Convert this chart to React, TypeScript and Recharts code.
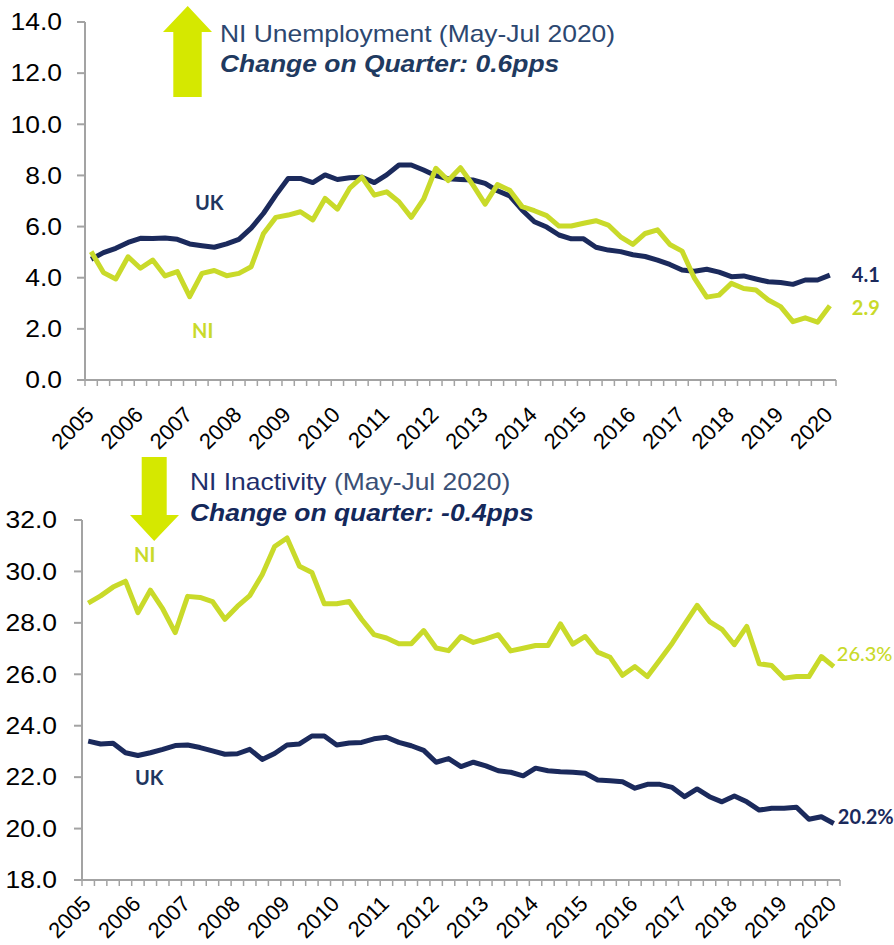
import React from 'react';
import { LineChart, Line, XAxis, YAxis, LabelList } from 'recharts';

// rolling quarters, May-Jul 2005 .. May-Jul 2020 (61 points)
const yearLabels = ['2005', '2006', '2007', '2008', '2009', '2010', '2011', '2012', '2013', '2014', '2015', '2016', '2017', '2018', '2019', '2020'];

const ukUnemployment = [
  4.72, 4.98, 5.15, 5.38, 5.54, 5.53, 5.55, 5.50, 5.32, 5.25, 5.19, 5.32, 5.50, 5.94, 6.52, 7.23,
  7.88, 7.88, 7.72, 8.02, 7.84, 7.91, 7.93, 7.72, 8.02, 8.41, 8.41, 8.21, 7.99, 7.87, 7.84, 7.82,
  7.69, 7.40, 7.20, 6.65, 6.19, 5.98, 5.67, 5.52, 5.52, 5.19, 5.08, 5.02, 4.90, 4.83, 4.69, 4.52,
  4.30, 4.25, 4.33, 4.22, 4.04, 4.07, 3.95, 3.84, 3.81, 3.74, 3.91, 3.91, 4.1,
];
const niUnemployment = [
  5.02, 4.20, 3.95, 4.82, 4.37, 4.69, 4.07, 4.24, 3.26, 4.17, 4.28, 4.08, 4.17, 4.43, 5.73, 6.36,
  6.45, 6.58, 6.26, 7.10, 6.68, 7.50, 7.93, 7.23, 7.36, 6.97, 6.36, 7.07, 8.28, 7.80, 8.30, 7.63,
  6.88, 7.64, 7.42, 6.78, 6.62, 6.43, 6.02, 6.02, 6.13, 6.23, 6.06, 5.60, 5.30, 5.73, 5.87, 5.30,
  5.04, 3.98, 3.24, 3.32, 3.78, 3.58, 3.52, 3.13, 2.87, 2.28, 2.43, 2.26, 2.9,
];
const ukInactivity = [
  23.40, 23.29, 23.32, 22.95, 22.84, 22.95, 23.08, 23.23, 23.25, 23.15, 23.02, 22.89, 22.91, 23.08, 22.69, 22.92,
  23.25, 23.29, 23.60, 23.60, 23.25, 23.33, 23.35, 23.49, 23.55, 23.35, 23.22, 23.04, 22.58, 22.72, 22.41, 22.58,
  22.44, 22.25, 22.19, 22.05, 22.35, 22.25, 22.21, 22.19, 22.15, 21.89, 21.86, 21.82, 21.57, 21.72, 21.72, 21.60,
  21.24, 21.54, 21.24, 21.04, 21.27, 21.04, 20.72, 20.79, 20.79, 20.83, 20.36, 20.46, 20.2,
];
const niInactivity = [
  28.77, 29.05, 29.39, 29.62, 28.40, 29.27, 28.54, 27.62, 29.03, 28.99, 28.83, 28.14, 28.64, 29.06, 29.87, 30.97,
  31.30, 30.20, 29.96, 28.74, 28.74, 28.83, 28.14, 27.54, 27.41, 27.19, 27.19, 27.70, 27.02, 26.92, 27.47, 27.24,
  27.38, 27.54, 26.91, 27.01, 27.12, 27.12, 27.96, 27.17, 27.47, 26.86, 26.66, 25.96, 26.30, 25.91, 26.56, 27.21,
  27.95, 28.68, 28.05, 27.75, 27.15, 27.86, 26.41, 26.34, 25.85, 25.91, 25.91, 26.69, 26.3,
];

const unempTicks = [0, 2, 4, 6, 8, 10, 12, 14];
const inactTicks = [18, 20, 22, 24, 26, 28, 30, 32];

const NAVY = '#1B2A5C';
const LIME = '#C9DA2A';
const ARROW = '#D5E800';
const AXIS = '#A3A3A3';
const ARIAL = '"Liberation Sans", Arial, sans-serif';
const LABEL_FONT = 'Lato, "Open Sans", sans-serif';

const lastIndex = ukUnemployment.length - 1;

const toRows = (uk: number[], ni: number[]) => uk.map((v, i) => ({ q: i, uk: v, ni: ni[i] }));
const unempData = toRows(ukUnemployment, niUnemployment);
const inactData = toRows(ukInactivity, niInactivity);

// tick marks sit between quarters, year labels sit on every 4th quarter
const boundaryTicks = Array.from({ length: lastIndex + 2 }, (_, i) => i - 0.5);
const labelTicks = yearLabels.map((_, i) => i * 4);
const xTicks = [...boundaryTicks, ...labelTicks].sort((a, b) => a - b);

function XTick(props: any) {
  const { x, y, payload, labelDy } = props;
  const v = payload.value;
  if (!Number.isInteger(v)) {
    return <line x1={x} y1={y} x2={x} y2={y + 6} stroke={AXIS} strokeWidth={1.5} />;
  }
  const ax = x + 4;
  const ay = y + labelDy;
  return (
    <text x={ax} y={ay} transform={`rotate(-45 ${ax} ${ay})`} textAnchor="end"
      fontSize={22} fontFamily={ARIAL} fill="#000">
      {yearLabels[v / 4]}
    </text>
  );
}

function YTick(props: any) {
  const { x, y, payload } = props;
  return (
    <text x={x} y={y} dy="0.36em" textAnchor="end" fontSize={23} fontFamily={ARIAL} fill="#000"
      transform={`translate(${x} 0) scale(1.15 1) translate(${-x} 0)`}>
      {payload.value.toFixed(1)}
    </text>
  );
}

const endLabel = (color: string, dx: number, dy: number, suffix: string, weight: number) => (props: any) => {
  const { x, y, index, value } = props;
  if (index !== lastIndex) return null;
  return (
    <text x={x + dx} y={y + dy} dy="0.35em" fill={color} fontSize={20} fontWeight={weight} fontFamily={LABEL_FONT}>
      {Number(value).toFixed(1) + suffix}
    </text>
  );
};

function Overlay() {
  const stretch = (x: number) => `translate(${x} 0) scale(1.15 1) translate(${-x} 0)`;
  return (
    <svg width={894} height={945} style={{ position: 'absolute', left: 0, top: 0, pointerEvents: 'none' }}>
      {/* up arrow */}
      <polygon points="187.7,6 212,32 201.7,32 201.7,97 173.3,97 173.3,32 163,32" fill={ARROW} />
      <text x={220} y={42} fontSize={23} fontFamily={ARIAL} fill="#2C4770" transform={stretch(220)}>
        NI Unemployment (May-Jul 2020)
      </text>
      <text x={220} y={72} fontSize={23} fontFamily={ARIAL} fontWeight="bold" fontStyle="italic" fill="#1F3A60" transform={stretch(220)}>
        Change on Quarter: 0.6pps
      </text>
      <text x={195} y={210} fontSize={20} fontWeight={700} fontFamily={LABEL_FONT} fill="#1F365F">UK</text>
      <text x={192} y={338} fontSize={20} fontWeight={700} fontFamily={LABEL_FONT} fill={LIME}>NI</text>

      {/* down arrow */}
      <polygon points="141.7,457 166.7,457 166.7,515 179,515 154.2,541 130,515 141.7,515" fill={ARROW} />
      <text x={190} y={490} fontSize={23} fontFamily={ARIAL} transform={stretch(190)}>
        <tspan fill="#1F2F6B">NI Inactivity </tspan>
        <tspan fill="#3A5075">(May-Jul 2020)</tspan>
      </text>
      <text x={190} y={521} fontSize={23} fontFamily={ARIAL} fontWeight="bold" fontStyle="italic" fill="#14285A" transform={stretch(190)}>
        Change on quarter: -0.4pps
      </text>
      <text x={134} y={562} fontSize={20} fontWeight={700} fontFamily={LABEL_FONT} fill={LIME}>NI</text>
      <text x={135} y={785} fontSize={20} fontWeight={700} fontFamily={LABEL_FONT} fill="#1F365F">UK</text>
    </svg>
  );
}

export default function App() {
  return (
    <div style={{ position: 'absolute', left: 0, top: 0, width: 894, height: 945, background: '#fff' }}>
      <div style={{ position: 'absolute', left: 0, top: 0 }}>
        <LineChart width={894} height={470} data={unempData} margin={{ top: 22, right: 58, bottom: 0, left: 0 }}>
          <XAxis dataKey="q" type="number" domain={[-0.5, lastIndex + 0.5]} ticks={xTicks} interval={0}
            tickSize={0} tickMargin={0} tickLine={false} height={90}
            axisLine={{ stroke: AXIS, strokeWidth: 2 }}
            tick={(p: any) => <XTick {...p} labelDy={36} />} />
          <YAxis domain={[0, 14]} ticks={unempTicks} interval={0} width={85} tickSize={8} tickMargin={15}
            tickLine={{ stroke: AXIS, strokeWidth: 2 }} axisLine={{ stroke: AXIS, strokeWidth: 2 }}
            tick={(p: any) => <YTick {...p} />} />
          <Line dataKey="uk" stroke={NAVY} strokeWidth={5} dot={false} strokeLinejoin="round" isAnimationActive={false}>
            <LabelList dataKey="uk" content={endLabel(NAVY, 22, 0, '', 700)} />
          </Line>
          <Line dataKey="ni" stroke={LIME} strokeWidth={5} dot={false} strokeLinejoin="round" isAnimationActive={false}>
            <LabelList dataKey="ni" content={endLabel(LIME, 22, 2, '', 700)} />
          </Line>
        </LineChart>
      </div>
      <div style={{ position: 'absolute', left: 0, top: 470 }}>
        <LineChart width={894} height={475} data={inactData} margin={{ top: 50, right: 54, bottom: 0, left: 0 }}>
          <XAxis dataKey="q" type="number" domain={[-0.5, lastIndex + 0.5]} ticks={xTicks} interval={0}
            tickSize={0} tickMargin={0} tickLine={false} height={65}
            axisLine={{ stroke: AXIS, strokeWidth: 2 }}
            tick={(p: any) => <XTick {...p} labelDy={25} />} />
          <YAxis domain={[18, 32]} ticks={inactTicks} interval={0} width={82} tickSize={8} tickMargin={17}
            tickLine={{ stroke: AXIS, strokeWidth: 2 }} axisLine={{ stroke: AXIS, strokeWidth: 2 }}
            tick={(p: any) => <YTick {...p} />} />
          <Line dataKey="ni" stroke={LIME} strokeWidth={5} dot={false} strokeLinejoin="round" isAnimationActive={false}>
            <LabelList dataKey="ni" content={endLabel(LIME, 3, -13, '%', 500)} />
          </Line>
          <Line dataKey="uk" stroke={NAVY} strokeWidth={5} dot={false} strokeLinejoin="round" isAnimationActive={false}>
            <LabelList dataKey="uk" content={endLabel(NAVY, 4, -6, '%', 700)} />
          </Line>
        </LineChart>
      </div>
      <Overlay />
    </div>
  );
}
